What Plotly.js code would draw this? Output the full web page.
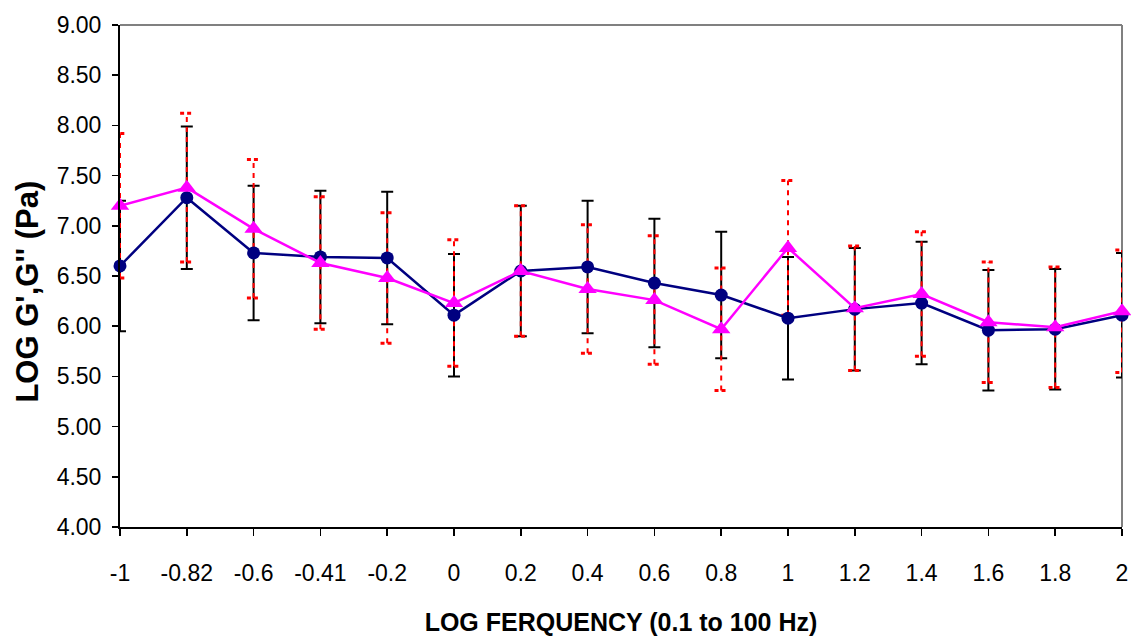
<!DOCTYPE html>
<html>
<head>
<meta charset="utf-8">
<script src="https://cdn.plot.ly/plotly-3.0.1.min.js"></script>
<style>html,body{margin:0;padding:0;background:#fff;}#chart{width:1131px;height:636px;}</style>
</head>
<body>
<div id="chart"></div>
<script>
// Data
const categories = ["-1","-0.82","-0.6","-0.41","-0.2","0","0.2","0.4","0.6","0.8","1","1.2","1.4","1.6","1.8","2"];
const gPrime   = [6.60, 7.28, 6.73, 6.69, 6.68, 6.11, 6.55, 6.59, 6.43, 6.31, 6.08, 6.17, 6.23, 5.96, 5.97, 6.11];
const gPrimeErr = [0.65, 0.71, 0.67, 0.66, 0.66, 0.61, 0.65, 0.66, 0.64, 0.63, 0.61, 0.61, 0.61, 0.60, 0.60, 0.62];
const gDouble  = [7.20, 7.38, 6.97, 6.63, 6.48, 6.23, 6.55, 6.37, 6.26, 5.97, 6.78, 6.18, 6.32, 6.04, 5.99, 6.15];
const gDoubleErr = [0.72, 0.74, 0.69, 0.66, 0.65, 0.63, 0.65, 0.64, 0.64, 0.61, 0.67, 0.62, 0.62, 0.60, 0.60, 0.61];
const yTicks = [4, 4.5, 5, 5.5, 6, 6.5, 7, 7.5, 8, 8.5, 9];

const idx = categories.map((c, i) => i);

// red dashed error bars for G'' built from the data
const capHalf = 0.1;
const vx = [], vy = [], cx = [], cy = [];
idx.forEach(i => {
  const lo = gDouble[i] - gDoubleErr[i], hi = gDouble[i] + gDoubleErr[i];
  vx.push(i, i, null); vy.push(lo, hi, null);
  cx.push(i - capHalf, i + capHalf, null); cy.push(hi, hi, null);
  cx.push(i - capHalf, i + capHalf, null); cy.push(lo, lo, null);
});

const traces = [
  { x: idx, y: gPrime, type: 'scatter', mode: 'markers', cliponaxis: false,
    marker: { size: 1, color: 'rgba(0,0,0,0)' }, hoverinfo: 'skip', showlegend: false,
    error_y: { type: 'data', array: gPrimeErr, visible: true, color: '#000000', thickness: 2, width: 6 } },
  { x: vx, y: vy, type: 'scatter', mode: 'lines', cliponaxis: false, showlegend: false, hoverinfo: 'skip',
    line: { color: '#FF0000', width: 2, dash: '5px,5px' } },
  { x: cx, y: cy, type: 'scatter', mode: 'lines', cliponaxis: false, showlegend: false, hoverinfo: 'skip',
    line: { color: '#FF0000', width: 3, dash: '4px,3px' } },
  { x: idx, y: gPrime, type: 'scatter', mode: 'lines+markers', cliponaxis: false, name: "G'",
    line: { color: '#000080', width: 2.5 }, marker: { symbol: 'circle', size: 13, color: '#000080' } },
  { x: idx, y: gDouble, type: 'scatter', mode: 'lines+markers', cliponaxis: false, name: "G''",
    line: { color: '#FF00FF', width: 2.5 }, marker: { symbol: 'triangle-up', size: 16, color: '#FF00FF' } }
];

const fontFam = '"Liberation Sans", Arial, sans-serif';
const layout = {
  width: 1131, height: 636,
  margin: { l: 120, r: 9, t: 25, b: 109 },
  paper_bgcolor: '#ffffff', plot_bgcolor: '#ffffff',
  showlegend: false,
  font: { family: fontFam, color: '#000000', size: 23 },
  xaxis: {
    range: [0, 15], tickmode: 'array', tickvals: idx, ticktext: categories,
    showgrid: false, zeroline: false, showline: true, linecolor: '#000000', linewidth: 2,
    ticks: 'outside', ticklen: 7, tickwidth: 1.5, tickcolor: '#000000',
    ticklabelstandoff: 17, tickfont: { size: 23, family: fontFam },
    automargin: false,
    title: { text: 'LOG FERQUENCY (0.1 to 100 Hz)', font: { size: 25, family: fontFam, weight: 'bold' }, standoff: 31 }
  },
  yaxis: {
    range: [4, 9], tickmode: 'array', tickvals: yTicks, tickformat: '.2f',
    showgrid: false, zeroline: false, showline: true, linecolor: '#000000', linewidth: 2,
    ticks: 'outside', ticklen: 6, tickwidth: 1.5, tickcolor: '#000000',
    ticklabelstandoff: 6, tickfont: { size: 23, family: fontFam },
    automargin: false
  },
  annotations: [
    { text: "LOG G',G'' (Pa)", textangle: -90, xref: 'paper', yref: 'paper',
      x: -0.0923, y: 0.468, xanchor: 'center', yanchor: 'middle', showarrow: false,
      font: { size: 31, family: fontFam, weight: 'bold', color: '#000000' } }
  ],
  shapes: [
    { type: 'line', xref: 'paper', yref: 'paper', x0: 0, x1: 1, y0: 1, y1: 1, layer: 'below', line: { color: '#808080', width: 2 } },
    { type: 'line', xref: 'paper', yref: 'paper', x0: 1, x1: 1, y0: 0, y1: 1, layer: 'below', line: { color: '#808080', width: 2 } }
  ]
};

Plotly.newPlot('chart', traces, layout, { displayModeBar: false, staticPlot: true });
</script>
</body>
</html>
